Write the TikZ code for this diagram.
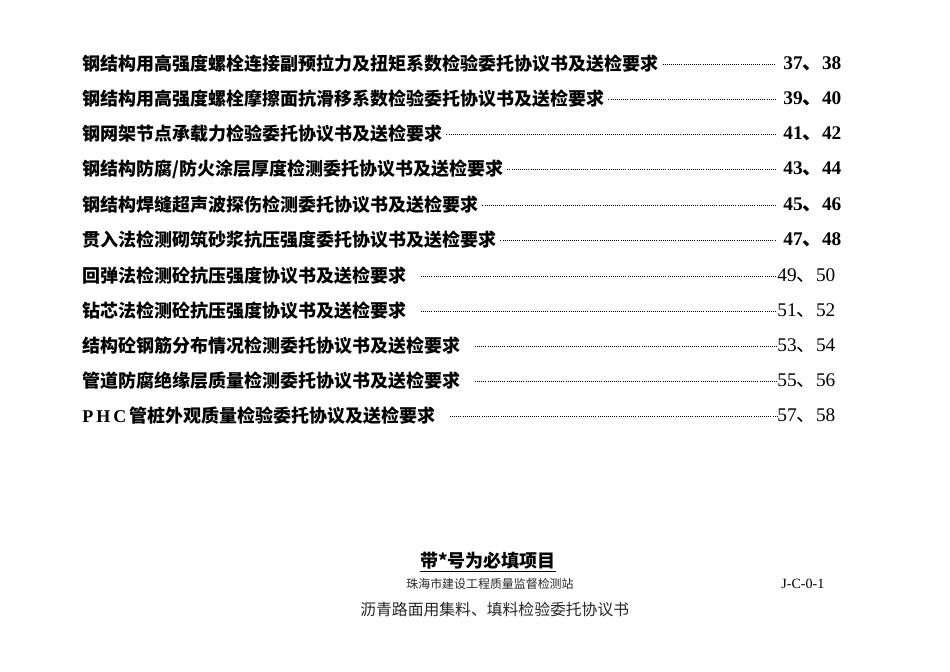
\documentclass[tikz,border=0pt]{standalone}
\usepackage{fontspec}
\setmainfont{Liberation Serif}
\newfontfamily\cjk{Noto Sans CJK SC}
\usetikzlibrary{positioning}
\newcommand{\dun}{{\cjk 、}}

\begin{document}
\begin{tikzpicture}[x=0.02cm, y=-0.02cm,
  entry/.style={anchor=west, inner sep=0pt, font=\fontsize{10.25}{12}\cjk\bfseries},
  pnum/.style={anchor=west, inner sep=0pt, font=\fontsize{11}{12}\selectfont},
  leader/.style={dash pattern=on 0.45pt off 0.75pt, line width=0.5pt}]
  \useasboundingbox (0,0) rectangle (950,672);
  % bold entries with bold page numbers
  \foreach \y/\t/\p [count=\i] in {
    64/钢结构用高强度螺栓连接副预拉力及扭矩系数检验委托协议书及送检要求/37\dun38,
    99/钢结构用高强度螺栓摩擦面抗滑移系数检验委托协议书及送检要求/39\dun40,
    134/钢网架节点承载力检验委托协议书及送检要求/41\dun42,
    169/{钢结构防腐/防火涂层厚度检测委托协议书及送检要求}/43\dun44,
    205/钢结构焊缝超声波探伤检测委托协议书及送检要求/45\dun46,
    240/贯入法检测砌筑砂浆抗压强度委托协议书及送检要求/47\dun48} {
    \node[entry] (e\i) at (82,\y) {\t};
    \node[pnum, font=\fontsize{11}{12}\bfseries] (p\i) at (783,\y) {\p};
    \draw[leader] ([xshift=2pt]e\i.east) -- ([xshift=-4pt]p\i.west);
  }
  % entries with plain page numbers
  \foreach \y/\t/\p [count=\i] in {
    276/回弹法检测砼抗压强度协议书及送检要求/49\dun50,
    311/钻芯法检测砼抗压强度协议书及送检要求/51\dun52,
    346/结构砼钢筋分布情况检测委托协议书及送检要求/53\dun54,
    381/管道防腐绝缘层质量检测委托协议书及送检要求/55\dun56,
    416/{{\rmfamily\bfseries P\,H\,C\,}管桩外观质量检验委托协议及送检要求}/57\dun58} {
    \node[entry] (f\i) at (82,\y) {\t};
    \node[pnum] (q\i) at (777,\y) {\p};
    \draw[leader] ([xshift=8pt]f\i.east) -- (q\i.west);
  }
  % footer
  \node[font=\fontsize{10.25}{12}\cjk\bfseries, inner sep=0pt] (must) at (488,562) {\underline{带*号为必填项目}};
  \node[font=\fontsize{6.8}{8}\cjk, text=black!85, inner sep=0pt] (stn) at (490,584) {珠海市建设工程质量监督检测站};
  \node[font=\fontsize{8}{9}\selectfont, anchor=west, inner sep=0pt] (code) at (781,584) {J-C-0-1};
  \node[font=\fontsize{9}{10}\cjk, text=black!85, anchor=west, inner sep=0pt] (title) at (360,609) {沥青路面用集料、填料检验委托协议书};
\end{tikzpicture}
\end{document}
